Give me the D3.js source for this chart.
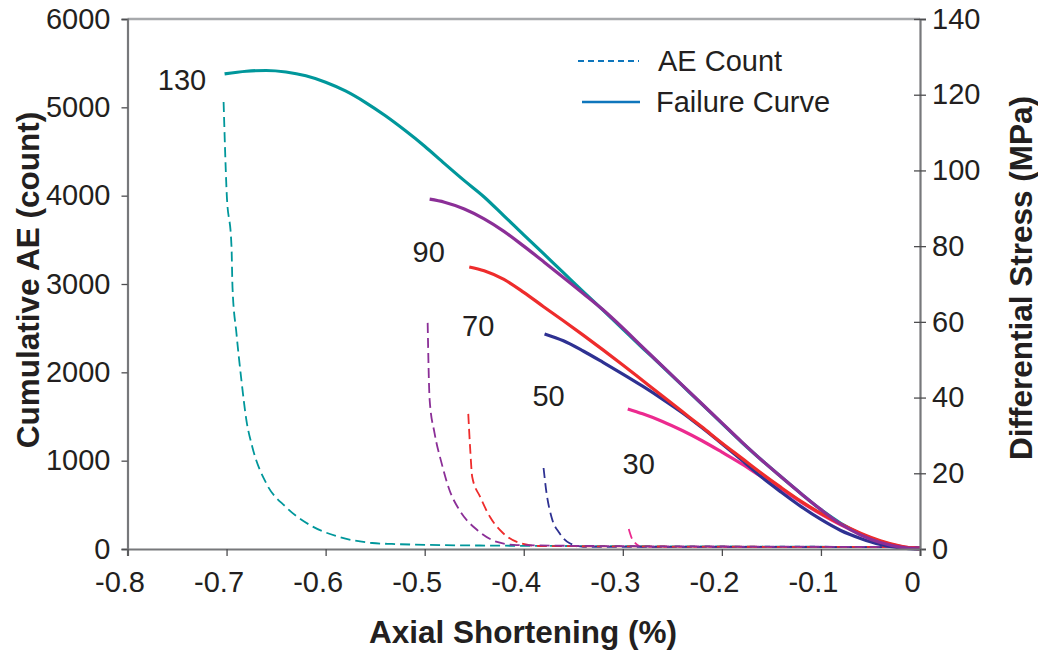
<!DOCTYPE html>
<html>
<head>
<meta charset="utf-8">
<script src="https://cdn.jsdelivr.net/npm/d3@7"></script>
<style>
  html, body { margin: 0; padding: 0; background: #fff; }
  svg { display: block; font-family: "Liberation Sans", Arial, sans-serif; }
</style>
</head>
<body>
<svg id="chart" width="1038" height="654"></svg>
<script>
// Axis ticks
const xTicks = [-0.8, -0.7, -0.6, -0.5, -0.4, -0.3, -0.2, -0.1, 0];
const aeTicks = [0, 1000, 2000, 3000, 4000, 5000, 6000];
const stressTicks = [0, 20, 40, 60, 80, 100, 120, 140];

// Confining pressure of each test (MPa), used as curve labels
const pressures = ["130", "90", "70", "50", "30"];
const colors = ["#00979b", "#8b2f97", "#ee2c2c", "#2e3192", "#ec2a8f"];

// Failure curves: [axial shortening %, differential stress MPa]
const stress130 = [[-0.702,125.5],[-0.68,126.2],[-0.66,126.4],[-0.64,126.0],[-0.62,125.0],[-0.60,123.3],
  [-0.58,121.0],[-0.56,118.0],[-0.54,114.5],[-0.52,110.6],[-0.50,106.4],[-0.48,101.8],[-0.46,97.3],
  [-0.44,93.0],[-0.42,88.0],[-0.40,83.0],[-0.38,78.0],[-0.36,73.0],[-0.34,68.0],[-0.32,63.1],
  [-0.30,58.1],[-0.28,53.1],[-0.26,48.2],[-0.24,43.2],[-0.22,38.2],[-0.20,33.2],[-0.18,28.2],
  [-0.16,23.5],[-0.14,19.0],[-0.12,14.6],[-0.10,10.4],[-0.08,6.8],[-0.06,4.0],[-0.04,2.0],
  [-0.02,0.6],[0,0]];
const stress90 = [[-0.495,92.4],[-0.48,91.6],[-0.46,89.8],[-0.44,87.2],[-0.42,83.9],[-0.40,80.0],
  [-0.38,75.9],[-0.36,71.7],[-0.34,67.5],[-0.32,63.2],[-0.30,58.4],[-0.28,53.3],[-0.26,48.3],
  [-0.24,43.3],[-0.22,38.3],[-0.20,33.3],[-0.18,28.3],[-0.16,23.5],[-0.14,19.0],[-0.12,14.6],
  [-0.10,10.4],[-0.08,6.6],[-0.06,3.7],[-0.04,1.7],[-0.02,0.5],[0,0]];
const stress70 = [[-0.455,74.5],[-0.44,73.5],[-0.42,71.2],[-0.40,67.8],[-0.38,64.0],[-0.36,60.3],
  [-0.34,56.5],[-0.32,52.6],[-0.30,48.6],[-0.28,44.5],[-0.26,40.4],[-0.24,36.3],[-0.22,32.2],
  [-0.20,28.0],[-0.18,24.0],[-0.16,20.0],[-0.14,16.2],[-0.12,12.6],[-0.10,9.4],[-0.08,6.6],
  [-0.06,4.2],[-0.04,2.2],[-0.02,0.8],[0,0]];
const stress50 = [[-0.379,56.8],[-0.36,55.0],[-0.34,52.3],[-0.32,49.3],[-0.30,46.2],[-0.28,43.0],
  [-0.26,39.6],[-0.24,36.0],[-0.22,32.0],[-0.20,27.8],[-0.18,23.5],[-0.16,19.0],[-0.14,15.0],
  [-0.12,11.2],[-0.10,7.8],[-0.08,4.9],[-0.06,2.8],[-0.04,1.2],[-0.02,0.3],[0,0]];
const stress30 = [[-0.295,37.0],[-0.28,35.7],[-0.26,33.7],[-0.24,31.3],[-0.22,28.6],[-0.20,25.6],
  [-0.18,22.5],[-0.16,19.1],[-0.14,15.8],[-0.12,12.4],[-0.10,9.2],[-0.08,6.4],[-0.06,4.0],
  [-0.04,2.0],[-0.02,0.7],[0,0]];

// Cumulative AE: [axial shortening %, count]
const ae130 = [[-0.703,5060],[-0.700,4060],[-0.695,3420],[-0.694,2960],[-0.690,2440],[-0.685,1910],
  [-0.680,1460],[-0.674,1155],[-0.660,745],[-0.640,475],[-0.616,272],[-0.586,136],[-0.553,68],
  [-0.533,57],[-0.45,40],[-0.30,32],[-0.15,27],[0,22]];
const ae90 = [[-0.497,2560],[-0.495,1690],[-0.490,1310],[-0.483,975],[-0.475,668],[-0.465,442],
  [-0.447,215],[-0.427,80],[-0.407,45],[-0.30,32],[-0.15,27],[0,22]];
const ae70 = [[-0.456,1530],[-0.454,1120],[-0.452,815],[-0.444,590],[-0.434,362],[-0.421,181],
  [-0.404,68],[-0.384,34],[-0.25,28],[0,22]];
const ae50 = [[-0.380,917],[-0.377,634],[-0.372,362],[-0.364,181],[-0.354,68],[-0.340,25],
  [-0.2,24],[0,20]];
const ae30 = [[-0.294,226],[-0.290,102],[-0.280,25],[-0.15,22],[0,20]];

const stressSeries = [stress130, stress90, stress70, stress50, stress30];
const aeSeries = [ae130, ae90, ae70, ae50, ae30];

// Label anchors for the pressure numbers
const labelPos = [[-0.745,124], [-0.496,78.5], [-0.446,59], [-0.375,40.5], [-0.284,22.5]];

const svg = d3.select("#chart");
const L = 127.5, R = 920, T = 19, B = 549;

const x = d3.scaleLinear().domain([-0.8, 0]).range([L, R]);
const yAE = d3.scaleLinear().domain([0, 6000]).range([B, T]);
const yS = d3.scaleLinear().domain([0, 140]).range([B, T]);

const axisColor = "#77787b";
const font = 29;
const hyphen = s => s.replace("\u2212", "-");

// Top frame line
svg.append("line").attr("x1", L).attr("x2", R).attr("y1", T).attr("y2", T)
  .attr("stroke", "#a7a9ac").attr("stroke-width", 2.5);

// Cumulative AE dashed curves
const aeLine = d3.line().x(d => x(d[0])).y(d => yAE(d[1])).curve(d3.curveMonotoneX);
const drawOrder = [0, 4, 3, 2, 1];
drawOrder.forEach(i => {
  svg.append("path").datum(aeSeries[i]).attr("d", aeLine)
    .attr("fill", "none").attr("stroke", colors[i]).attr("stroke-width", 1.8)
    .attr("stroke-dasharray", "10,5");
});

// Failure curves
const sLine = d3.line().x(d => x(d[0])).y(d => yS(d[1])).curve(d3.curveMonotoneX);
drawOrder.forEach(i => {
  svg.append("path").datum(stressSeries[i]).attr("d", sLine)
    .attr("fill", "none").attr("stroke", colors[i]).attr("stroke-width", 3.2)
    .attr("stroke-linejoin", "round");
});

// Left axis
const gL = svg.append("g").attr("transform", `translate(${L},0)`)
  .call(d3.axisLeft(yAE).tickValues(aeTicks).tickSize(6).tickPadding(11).tickFormat(d3.format("d")));
// Right axis
const gR = svg.append("g").attr("transform", `translate(${R},0)`)
  .call(d3.axisRight(yS).tickValues(stressTicks).tickSize(6).tickPadding(6).tickFormat(d3.format("d")));
gR.selectAll(".tick line").attr("x1", -6);
// Bottom axis
const gB = svg.append("g").attr("transform", `translate(0,${B})`)
  .call(d3.axisBottom(x).tickValues(xTicks).tickSize(7)
    .tickFormat(d => d === 0 ? "0" : hyphen(d3.format(".1f")(d))));
gB.selectAll(".tick text").attr("y", 33).attr("dy", "0.35em").attr("dx", -8);

[gL, gR, gB].forEach(g => {
  g.select(".domain").attr("stroke", axisColor).attr("stroke-width", 2.2);
  g.selectAll(".tick line").attr("stroke", "#4d4d4f").attr("stroke-width", 1.3);
  g.selectAll(".tick text").attr("font-size", font).attr("fill", "#231f20")
    .attr("font-family", "'Liberation Sans', Arial, sans-serif");
});

// Axis titles
svg.append("text").attr("x", 523).attr("y", 632).attr("text-anchor", "middle")
  .attr("dominant-baseline", "central").attr("font-size", 31.5).attr("font-weight", "bold")
  .attr("fill", "#231f20").text("Axial Shortening (%)");
svg.append("text").attr("transform", "translate(28,280) rotate(-90)").attr("text-anchor", "middle")
  .attr("dominant-baseline", "central").attr("font-size", 31.5).attr("font-weight", "bold")
  .attr("fill", "#231f20").text("Cumulative AE (count)");
svg.append("text").attr("transform", "translate(1021,278) rotate(-90)").attr("text-anchor", "middle")
  .attr("dominant-baseline", "central").attr("font-size", 31.5).attr("font-weight", "bold")
  .attr("fill", "#231f20").text("Differential Stress (MPa)");

// Pressure labels
pressures.forEach((p, i) => {
  svg.append("text").attr("x", x(labelPos[i][0])).attr("y", yS(labelPos[i][1]))
    .attr("text-anchor", "middle").attr("dominant-baseline", "central")
    .attr("font-size", font).attr("fill", "#231f20").text(p);
});

// Legend
const legendColor = "#0e76bc";
const legend = svg.append("g");
legend.append("line").attr("x1", 578).attr("x2", 639).attr("y1", 61).attr("y2", 61)
  .attr("stroke", legendColor).attr("stroke-width", 2.2).attr("stroke-dasharray", "6,4");
legend.append("text").attr("x", 658).attr("y", 61).attr("dominant-baseline", "central")
  .attr("font-size", font).attr("fill", "#231f20").text("AE Count");
legend.append("line").attr("x1", 582).attr("x2", 640).attr("y1", 102).attr("y2", 102)
  .attr("stroke", legendColor).attr("stroke-width", 2.4);
legend.append("text").attr("x", 656).attr("y", 102).attr("dominant-baseline", "central")
  .attr("font-size", font).attr("fill", "#231f20").text("Failure Curve");
</script>
</body>
</html>
